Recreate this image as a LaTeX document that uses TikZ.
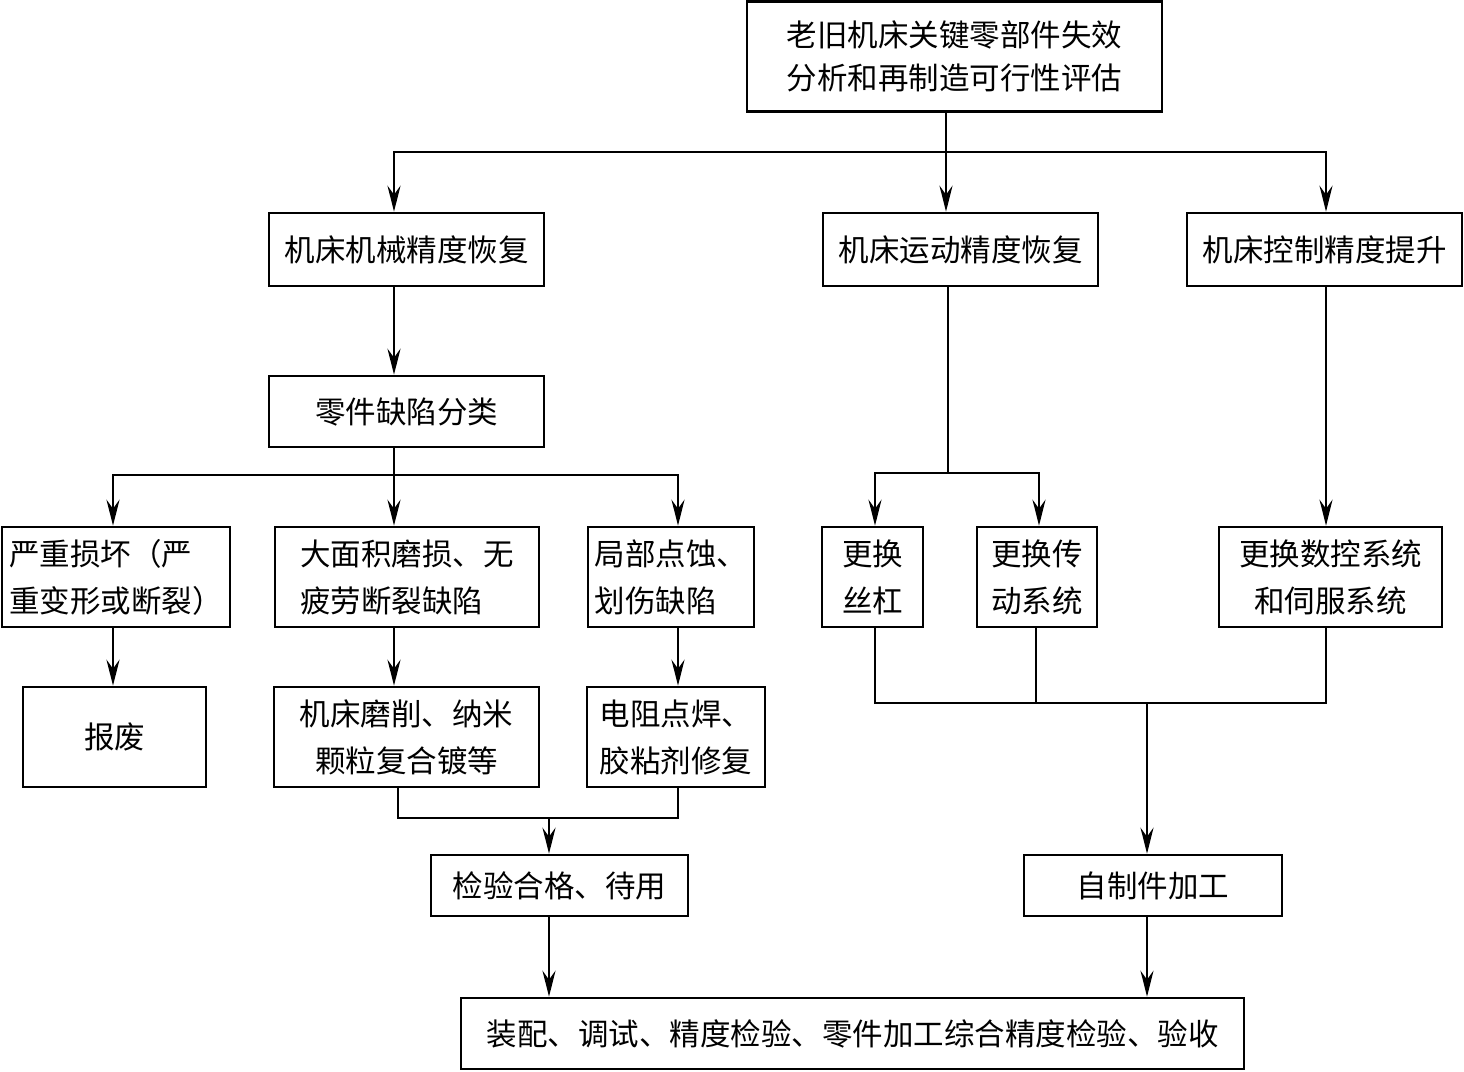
\documentclass[tikz,border=0pt]{standalone}
\usepackage{fontspec}
\setmainfont{Noto Sans CJK SC}
\usetikzlibrary{arrows.meta}
\tikzset{
  box/.style={draw, line width=2.6pt, inner sep=0pt, font=\fontsize{30.5}{47}\selectfont},
  conn/.style={line width=2.6pt},
  arr/.style={conn, -{Stealth[length=26pt,width=13pt,inset=9pt]}}
}
\begin{document}
\begin{tikzpicture}[x=1pt,y=-1pt]
\useasboundingbox (0,0) rectangle (1464,1071);
% boxes
\node[box, minimum width=415pt, minimum height=110pt, align=left, font=\fontsize{30.5}{43}\selectfont] (top) at (954.5,56.5) {老旧机床关键零部件失效\\分析和再制造可行性评估};
\node[box, minimum width=275pt, minimum height=73pt] (mech) at (406.5,249.5) {机床机械精度恢复};
\node[box, minimum width=275pt, minimum height=73pt] (move) at (960.5,249.5) {机床运动精度恢复};
\node[box, minimum width=275pt, minimum height=73pt] (ctrl) at (1324.5,249.5) {机床控制精度提升};
\node[box, minimum width=275pt, minimum height=71pt] (cls) at (406.5,411.5) {零件缺陷分类};
\node[box, minimum width=228pt, minimum height=100pt, align=left] (sev) at (116,577) {严重损坏（严\\重变形或断裂）};
\node[box, minimum width=264pt, minimum height=100pt, align=left] (wear) at (407,577) {大面积磨损、无\\疲劳断裂缺陷};
\node[box, minimum width=166pt, minimum height=100pt, align=left] (pit) at (671,577) {局部点蚀、\\划伤缺陷};
\node[box, minimum width=101pt, minimum height=100pt, align=left] (screw) at (872.5,577) {更换\\丝杠};
\node[box, minimum width=120pt, minimum height=100pt, align=left] (drive) at (1037,577) {更换传\\动系统};
\node[box, minimum width=223pt, minimum height=100pt, align=center] (cnc) at (1330.5,577) {更换数控系统\\和伺服系统};
\node[box, minimum width=183pt, minimum height=100pt] (scrap) at (114.5,737) {报废};
\node[box, minimum width=265pt, minimum height=100pt, align=center] (grind) at (406.5,737) {机床磨削、纳米\\颗粒复合镀等};
\node[box, minimum width=178pt, minimum height=100pt, align=left] (weld) at (676,737) {电阻点焊、\\胶粘剂修复};
\node[box, minimum width=257pt, minimum height=61pt] (check) at (559.5,885.5) {检验合格、待用};
\node[box, minimum width=258pt, minimum height=61pt] (self) at (1153,885.5) {自制件加工};
\node[box, minimum width=783pt, minimum height=71pt] (final) at (852.5,1033.5) {装配、调试、精度检验、零件加工综合精度检验、验收};
% junction coordinates
\coordinate (j1) at (946,152);
\coordinate (j2) at (394,475);
\coordinate (j3) at (948,473);
\coordinate (j4) at (549,818);
\coordinate (j5) at (1147,703);
% top split
\draw[conn] (top.south -| j1) -- (j1);
\draw[arr] (j1) -| (mech.north -| 394,0);
\draw[arr] (j1) -- (move.north -| j1);
\draw[arr] (j1) -| (ctrl.north -| 1326,0);
\draw[arr] (mech.south -| 394,0) -- (cls.north -| 394,0);
% defect split
\draw[conn] (cls.south -| j2) -- (j2);
\draw[arr] (j2) -| (sev.north -| 113,0);
\draw[arr] (j2) -- (wear.north -| j2);
\draw[arr] (j2) -| (pit.north -| 678,0);
\draw[arr] (sev.south -| 113,0) -- (scrap.north -| 113,0);
\draw[arr] (wear.south -| 394,0) -- (grind.north -| 394,0);
\draw[arr] (pit.south -| 678,0) -- (weld.north -| 678,0);
% merge to check
\draw[conn] (grind.south -| 398,0) |- (j4) -| (weld.south -| 678,0);
\draw[arr] (j4) -- (check.north -| j4);
\draw[arr] (check.south -| j4) -- (final.north -| j4);
% motion split
\draw[conn] (move.south -| j3) -- (j3);
\draw[arr] (j3) -| (screw.north -| 875,0);
\draw[arr] (j3) -| (drive.north -| 1039,0);
\draw[arr] (ctrl.south -| 1326,0) -- (cnc.north -| 1326,0);
% merge to self
\draw[conn] (screw.south -| 875,0) |- (j5) -| (cnc.south -| 1326,0);
\draw[conn] (drive.south -| 1036,0) -- (j5 -| 1036,0);
\draw[arr] (j5) -- (self.north -| j5);
\draw[arr] (self.south -| j5) -- (final.north -| j5);
\end{tikzpicture}
\end{document}
